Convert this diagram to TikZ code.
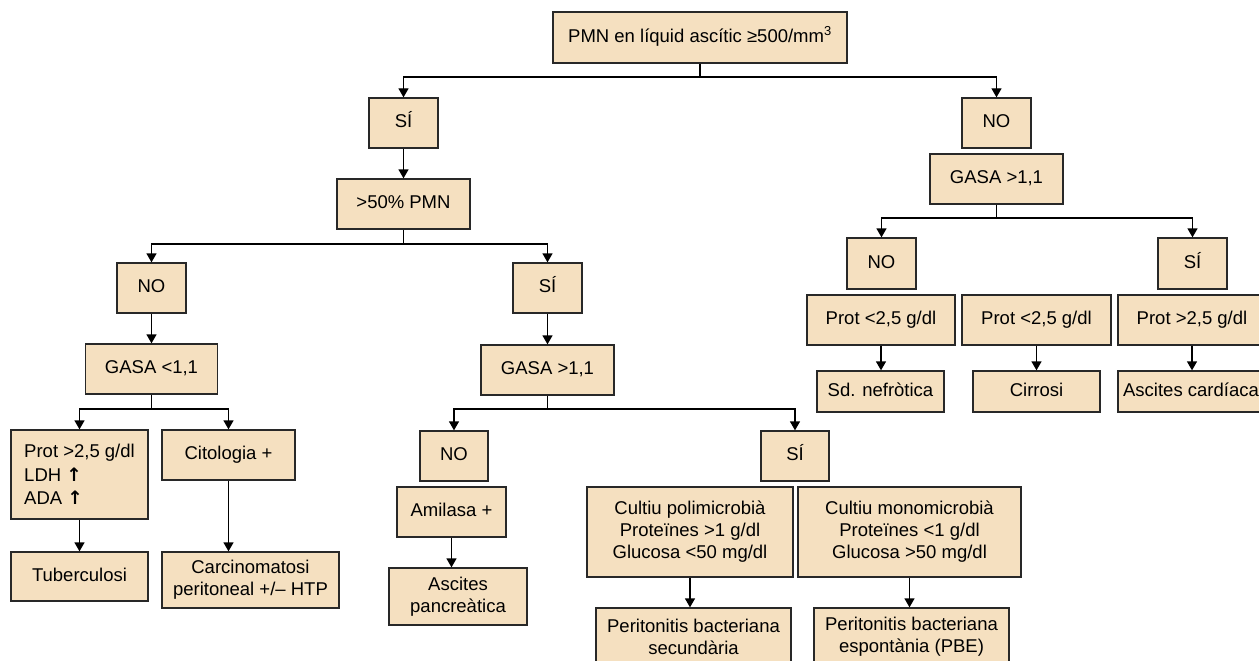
\documentclass[tikz,border=0pt]{standalone}
\usepackage{fontspec}
\setmainfont{Liberation Sans}
\newfontfamily\arrowfont{DejaVu Sans}
\usetikzlibrary{arrows.meta}
\definecolor{boxfill}{RGB}{245,224,192}
\definecolor{edge}{RGB}{40,40,40}
\newcommand{\uparr}{{\arrowfont\bfseries ↑}}
\begin{document}
\begin{tikzpicture}[x=1pt,y=-1pt,
  box/.style={draw=edge, fill=boxfill, line width=1.3pt, inner sep=0pt,
    font=\fontsize{18.5}{22}\selectfont, align=center},
  one/.style={text height=13.5pt, text depth=4pt},
  arr/.style={line width=1.3pt, draw=black, -{Triangle[width=10pt,length=9pt]}},
  ln/.style={line width=1.3pt, draw=black}]
\useasboundingbox (0,0) rectangle (1259,661);
\clip (0,0) rectangle (1259,661);

% level 0
\node[box, one, minimum width=294pt, minimum height=51pt] (top) at (700,37.5) {PMN en líquid ascític ≥500/mm\textsuperscript{3}};
% level 1
\node[box, one, minimum width=69pt, minimum height=50pt] (si1) at (403.5,123) {SÍ};
\node[box, one, minimum width=69pt, minimum height=50pt] (no1) at (996.5,123) {NO};
\node[box, one, minimum width=133pt, minimum height=50pt] (pmn50) at (403.5,204) {>50\% PMN};
\node[box, one, minimum width=133pt, minimum height=50pt] (gasaR) at (996.5,179) {GASA >1,1};
% left branch
\node[box, one, minimum width=69pt, minimum height=50pt] (no2L) at (151.5,288) {NO};
\node[box, one, minimum width=69pt, minimum height=50pt] (si2L) at (547.5,288) {SÍ};
\node[box, one, minimum width=132pt, minimum height=50pt] (gasaL) at (151.5,369) {GASA <1,1};
\node[box, one, minimum width=133pt, minimum height=50pt] (gasaM) at (547.5,370) {GASA >1,1};
\node[box, align=left, font=\fontsize{18.5}{23.5}\selectfont, minimum width=137pt, minimum height=89pt] (protL) at (79.5,474.5)
  {Prot >2,5 g/dl\\LDH \uparr\\ADA \uparr};
\node[box, one, minimum width=133pt, minimum height=50pt] (citologia) at (228.5,455) {Citologia +};
\node[box, one, minimum width=137pt, minimum height=49pt] (tuberculosi) at (79.5,576.5) {Tuberculosi};
\node[box, minimum width=177pt, minimum height=56pt] (carcin) at (250.5,580) {Carcinomatosi\\peritoneal +/– HTP};
% middle branch
\node[box, one, minimum width=68pt, minimum height=50pt] (noM) at (454,456) {NO};
\node[box, one, minimum width=68pt, minimum height=50pt] (siM) at (795,456) {SÍ};
\node[box, one, minimum width=109pt, minimum height=50pt] (amilasa) at (451.5,512) {Amilasa +};
\node[box, minimum width=138pt, minimum height=57pt] (pancrea) at (458,596.5) {Ascites\\pancreàtica};
\node[box, minimum width=206pt, minimum height=90pt] (poli) at (690,532) {Cultiu polimicrobià\\Proteïnes >1 g/dl\\Glucosa <50 mg/dl};
\node[box, minimum width=223pt, minimum height=90pt] (mono) at (909.5,532) {Cultiu monomicrobià\\Proteïnes <1 g/dl\\Glucosa >50 mg/dl};
\node[box, minimum width=195pt, minimum height=57pt] (perSec) at (693.5,636.5) {Peritonitis bacteriana\\secundària};
\node[box, minimum width=195pt, minimum height=57pt] (perEsp) at (911.5,636.5) {Peritonitis bacteriana\\espontània (PBE)};
% right branch
\node[box, one, minimum width=69pt, minimum height=51pt] (noR) at (881.5,263.5) {NO};
\node[box, one, minimum width=69pt, minimum height=51pt] (siR) at (1192.5,263.5) {SÍ};
\node[box, one, minimum width=148pt, minimum height=50pt] (protA) at (881,320) {Prot <2,5 g/dl};
\node[box, one, minimum width=149pt, minimum height=50pt] (protB) at (1036.5,320) {Prot <2,5 g/dl};
\node[box, one, minimum width=148pt, minimum height=50pt] (protC) at (1192,320) {Prot >2,5 g/dl};
\node[box, one, minimum width=127pt, minimum height=41pt] (sd) at (880.5,391.5) {Sd. nefròtica};
\node[box, one, minimum width=127pt, minimum height=41pt] (cirrosi) at (1036.5,391.5) {Cirrosi};
\node[box, one, minimum width=146pt, minimum height=41pt] (cardiaca) at (1191,391.5) {Ascites cardíaca};

% connectors
\coordinate (j1) at (700,77);
\draw[ln] (top.south) -- (j1);
\draw[arr] (j1) -| (si1.north);
\draw[arr] (j1) -| (no1.north);
\draw[arr] (si1) -- (pmn50);

\coordinate (j2) at (403.5,244);
\draw[ln] (pmn50.south) -- (j2);
\draw[arr] (j2) -| (no2L.north);
\draw[arr] (j2) -| (si2L.north);
\draw[arr] (no2L) -- (gasaL);
\draw[arr] (si2L) -- (gasaM);

\coordinate (j3) at (151.5,409);
\draw[ln] (gasaL.south) -- (j3);
\draw[arr] (j3) -| (protL.north);
\draw[arr] (j3) -| (citologia.north);
\draw[arr] (protL) -- (tuberculosi);
\draw[arr] (citologia.south) -- (citologia.south |- carcin.north);

\coordinate (j4) at (547.5,409);
\draw[ln] (gasaM.south) -- (j4);
\draw[arr] (j4) -| (noM.north);
\draw[arr] (j4) -| (siM.north);
\draw[arr] (amilasa.south) -- (amilasa.south |- pancrea.north);
\draw[arr] (poli.south) -- (poli.south |- perSec.north);
\draw[arr] (mono.south) -- (mono.south |- perEsp.north);

\coordinate (j5) at (996.5,218);
\draw[ln] (gasaR.south) -- (j5);
\draw[arr] (j5) -| (noR.north);
\draw[arr] (j5) -| (siR.north);
\draw[arr] (protA.south) -- (protA.south |- sd.north);
\draw[arr] (protB.south) -- (protB.south |- cirrosi.north);
\draw[arr] (protC.south) -- (protC.south |- cardiaca.north);
\end{tikzpicture}
\end{document}
